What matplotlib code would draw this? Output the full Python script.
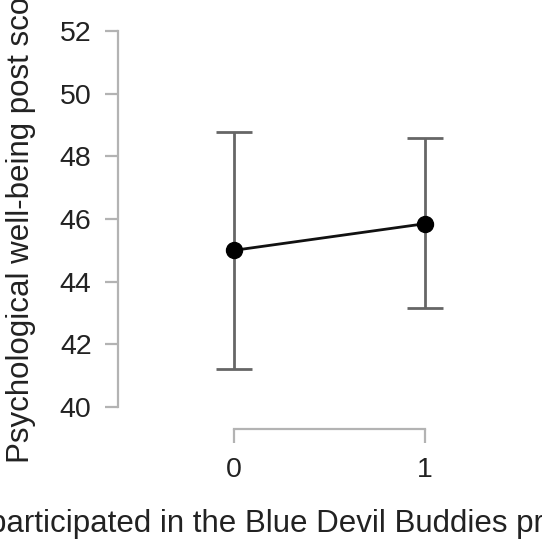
import matplotlib
matplotlib.use("Agg")
import matplotlib.pyplot as plt

# Data
groups = [0, 1]
means = [45.0, 45.85]
lower = [41.2, 43.15]
upper = [48.78, 48.58]
yticks = [40, 42, 44, 46, 48, 50, 52]
xlabel = "participated in the Blue Devil Buddies program"
ylabel = "Psychological well-being post score"

plt.rcParams['font.family'] = ['Liberation Sans', 'DejaVu Sans']

W, H = 542, 540
fig = plt.figure(figsize=(W / 100, H / 100), dpi=100)

# axes in pixel layout
left_px, right_px, top_px, bottom_px = 118, 520, 20, 429
ax = fig.add_axes([left_px / W, 1 - bottom_px / H,
                   (right_px - left_px) / W, (bottom_px - top_px) / H])

# scale mapping (x: 0->234px, 1->425px; y: 40->407px, 52->31px)
xpu = (425 - 234)
ypu = (407 - 31) / 12.0
ax.set_xlim((left_px - 234) / xpu, (right_px - 234) / xpu)
ax.set_ylim(40 - (bottom_px - 407) / ypu, 40 + (407 - top_px) / ypu)

err_lo = [m - l for m, l in zip(means, lower)]
err_hi = [u - m for m, u in zip(means, upper)]
ax.errorbar(groups, means, yerr=[err_lo, err_hi], fmt='none',
            ecolor='#666666', elinewidth=2.0, capsize=13.3, capthick=2.0, zorder=2)
ax.plot(groups, means, color='#111111', linewidth=2.0, zorder=3)
ax.plot(groups, means, 'o', color='black', markersize=11.5, zorder=4)

spine_col = '#b3b3b3'
for s in ['top', 'right']:
    ax.spines[s].set_visible(False)
ax.spines['left'].set_bounds(40, 52)
ax.spines['bottom'].set_bounds(0, 1)
for s in ['left', 'bottom']:
    ax.spines[s].set_color(spine_col)
    ax.spines[s].set_linewidth(1.6)

ax.set_yticks(yticks)
ax.set_yticklabels([str(t) for t in yticks])
ax.set_xticks(groups)
ax.set_xticklabels([str(g) for g in groups])
ax.tick_params(axis='y', direction='out', length=9.5, width=1.6, color=spine_col,
               labelsize=20.5, labelcolor='#222222', pad=9.5)
ax.tick_params(axis='x', direction='out', length=10, width=1.6, color=spine_col,
               labelsize=20.5, labelcolor='#222222', pad=10)

ax.set_ylabel(ylabel, fontsize=22.5, color='#222222', ha='left', va='bottom')
ax.yaxis.set_label_coords(36 / W, 77 / H, transform=fig.transFigure)
ax.set_xlabel(xlabel, fontsize=22.5, color='#222222', ha='left', va='baseline')
ax.xaxis.set_label_coords(-11 / W, 8 / H, transform=fig.transFigure)

fig.savefig("out.png", dpi=100)
